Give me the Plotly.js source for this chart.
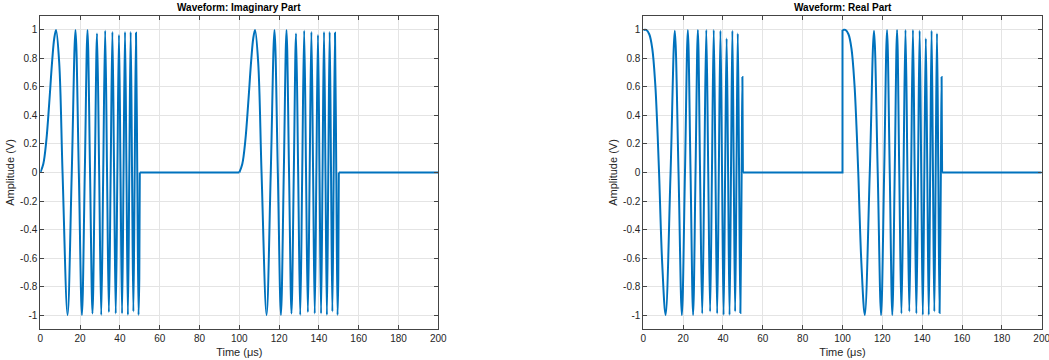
<!DOCTYPE html>
<html>
<head>
<meta charset="utf-8">
<script src="https://cdn.plot.ly/plotly-3.0.1.min.js"></script>
<style>
  html, body { margin: 0; padding: 0; background: #ffffff; }
  #chart { width: 1049px; height: 360px; }
</style>
</head>
<body>
<div id="chart"></div>
<script>
// ---- data (one pulse, times relative to pulse start, in µs) ----
const pulseTime = [0, 1.5, 3, 4.5, 6, 7, 7.91, 9.5, 11.18, 13.69, 15.81, 17.68, 19.36, 20.92, 22.36,
  23.72, 25.0, 26.22, 27.39, 28.5, 29.58, 30.62, 31.62, 32.6, 33.54, 34.46, 35.36, 36.23, 37.08,
  37.91, 38.73, 39.53, 40.31, 41.08, 41.83, 42.57, 43.3, 44.02, 44.72, 45.41, 46.1, 46.77, 47.43,
  48.09, 48.73, 49.37, 49.75, 50];
const imagPart = [0, 0.06, 0.22, 0.49, 0.79, 0.94, 1.0, 0.77, 0, -1.0, 0, 1.0, 0, -1.0, 0,
  1.0, 0, -0.99, 0, 0.975, 0, -1.0, 0, 0.995, 0, -0.98, 0, 0.985, 0,
  -0.99, 0, 0.965, 0, -0.99, 0, 0.985, 0, -1.0, 0, 0.985, 0, -0.975, 0,
  0.98, 0, -1.0, -0.74, 0];
const realPart = [1, 1.0, 0.97, 0.87, 0.62, 0.33, 0, -0.64, -1.0, 0, 0.995, 0, -1.0, 0, 1.0,
  0, -1.0, 0, 1.0, 0, -0.99, 0, 1.0, 0, -0.975, 0, 1.0, 0, -0.99,
  0, 0.995, 0, -1.0, 0, 0.94, 0, -1.0, 0, 0.995, 0, -0.975, 0, 0.975,
  0, -0.985, 0, 0.67, 0];
const pulseStarts = [0, 100];     // µs
const pulseWidth = 50;            // µs
const timeEnd = 200;              // µs
const xTickVals = [0, 20, 40, 60, 80, 100, 120, 140, 160, 180, 200];
const xTickText = ["0", "20", "40", "60", "80", "100", "120", "140", "160", "180", "200"];
const yTickVals = [-1, -0.8, -0.6, -0.4, -0.2, 0, 0.2, 0.4, 0.6, 0.8, 1];
const yTickText = ["-1", "-0.8", "-0.6", "-0.4", "-0.2", "0", "0.2", "0.4", "0.6", "0.8", "1"];
const panelTitles = ["Waveform: Imaginary Part", "Waveform: Real Part"];
const xTitle = "Time (μs)";
const yTitle = "Amplitude (V)";

// ---- build traces ----
const lineColor = "#0072BD";
const lw = 2;
function buildTraces(values, xa, ya) {
  const traces = [];
  pulseStarts.forEach((s, i) => {
    traces.push({
      x: pulseTime.map(t => t + s), y: values.slice(),
      xaxis: xa, yaxis: ya, type: "scatter", mode: "lines",
      line: {color: lineColor, width: lw, shape: "spline", smoothing: 1},
      hoverinfo: "skip", showlegend: false
    });
    // off period after this pulse (signal is zero), joined to next pulse's first sample
    const offStart = s + pulseWidth;
    const next = pulseStarts[i + 1];
    const ox = [offStart, next !== undefined ? next : timeEnd];
    const oy = [0, 0];
    if (next !== undefined) { ox.push(next + pulseTime[0]); oy.push(values[0]); }
    traces.push({
      x: ox, y: oy, xaxis: xa, yaxis: ya, type: "scatter", mode: "lines",
      line: {color: lineColor, width: lw, shape: "linear"},
      hoverinfo: "skip", showlegend: false
    });
  });
  return traces;
}
const data = [].concat(buildTraces(imagPart, "x", "y"), buildTraces(realPart, "x2", "y2"));

const txt = "#262626";
const fontFam = "'Liberation Sans', Arial, Helvetica, sans-serif";
function xAxis(domain, anchor) {
  return {
    domain: domain, anchor: anchor, range: [0, timeEnd],
    tickvals: xTickVals, ticktext: xTickText, ticklabeloverflow: "allow",
    ticks: "inside", ticklen: 4, tickcolor: "#444", tickwidth: 1,
    showline: true, linecolor: "#444", linewidth: 1, mirror: "ticks",
    showgrid: true, gridcolor: "#e4e4e4", gridwidth: 1, zeroline: false,
    tickfont: {family: fontFam, size: 10, color: txt},
    title: {text: xTitle, font: {family: fontFam, size: 11, color: txt}, standoff: 5},
    automargin: false, fixedrange: true
  };
}
function yAxis(domain, anchor) {
  return {
    domain: domain, anchor: anchor, range: [-1.1, 1.1],
    tickvals: yTickVals, ticktext: yTickText, ticklabeloverflow: "allow",
    ticks: "inside", ticklen: 4, tickcolor: "#444", tickwidth: 1,
    showline: true, linecolor: "#444", linewidth: 1, mirror: "ticks",
    showgrid: true, gridcolor: "#e4e4e4", gridwidth: 1, zeroline: false,
    tickfont: {family: fontFam, size: 10, color: txt},
    title: {text: yTitle, font: {family: fontFam, size: 11, color: txt}, standoff: 3},
    automargin: false, fixedrange: true
  };
}
const W = 1049, H = 360;
const xd1 = [40.3 / W, 438.3 / W], xd2 = [643.3 / W, 1041.7 / W];
const yd = [1 - 329.3 / H, 1 - 15.7 / H];

const layout = {
  width: W, height: H,
  margin: {l: 0, r: 0, t: 0, b: 0},
  paper_bgcolor: "#ffffff", plot_bgcolor: "#ffffff",
  font: {family: fontFam, color: txt},
  xaxis: xAxis(xd1, "y"), yaxis: yAxis(yd, "x"),
  xaxis2: xAxis(xd2, "y2"), yaxis2: yAxis(yd, "x2"),
  showlegend: false,
  annotations: panelTitles.map((t, i) => ({
    text: "<b>" + t + "</b>", xref: "paper", yref: "paper",
    x: (i === 0 ? (xd1[0] + xd1[1]) / 2 : (xd2[0] + xd2[1]) / 2), y: yd[1],
    xanchor: "center", yanchor: "bottom", yshift: 1, showarrow: false,
    font: {family: fontFam, size: 10, color: "#000"}
  }))
};
Plotly.newPlot("chart", data, layout, {displayModeBar: false, staticPlot: true});
</script>
</body>
</html>
